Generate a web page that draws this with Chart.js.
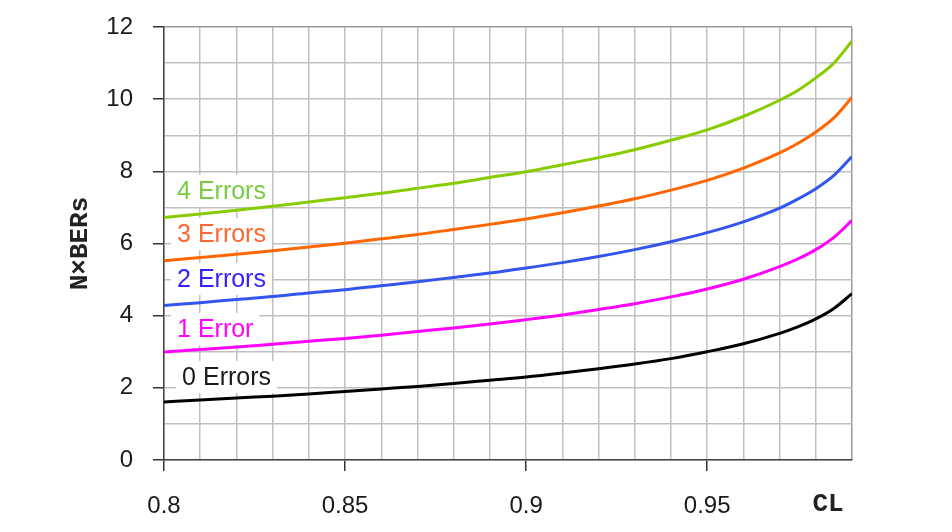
<!DOCTYPE html>
<html>
<head>
<meta charset="utf-8">
<script src="https://cdn.jsdelivr.net/npm/chart.js@4/dist/chart.umd.min.js"></script>
<style>
  html, body { margin: 0; padding: 0; background: #fff; }
  #wrap { width: 952px; height: 532px; }
</style>
</head>
<body>
<div id="wrap"><canvas id="berChart"></canvas></div>
<script>
// confidence levels (x axis) where the curves were read
var confLevels = [0.80, 0.81, 0.82, 0.83, 0.84, 0.85, 0.86, 0.87, 0.88, 0.89,
                  0.90, 0.91, 0.92, 0.93, 0.94, 0.95, 0.96, 0.97, 0.975, 0.98, 0.985, 0.99];

// N x BER values
var errors0 = [1.61, 1.66, 1.72, 1.77, 1.83, 1.90, 1.97, 2.04, 2.12, 2.21,
               2.30, 2.41, 2.53, 2.66, 2.81, 3.00, 3.22, 3.51, 3.69, 3.91, 4.20, 4.61];
var errors1 = [2.99, 3.06, 3.13, 3.21, 3.29, 3.37, 3.46, 3.56, 3.66, 3.77,
               3.89, 4.02, 4.17, 4.33, 4.52, 4.74, 5.01, 5.36, 5.57, 5.83, 6.17, 6.64];
var errors2 = [4.28, 4.36, 4.45, 4.53, 4.63, 4.72, 4.83, 4.94, 5.06, 5.18,
               5.32, 5.47, 5.64, 5.83, 6.05, 6.30, 6.60, 6.98, 7.23, 7.52, 7.89, 8.41];
var errors3 = [5.52, 5.61, 5.70, 5.80, 5.90, 6.01, 6.13, 6.25, 6.39, 6.53,
               6.68, 6.85, 7.04, 7.24, 7.48, 7.75, 8.09, 8.51, 8.77, 9.09, 9.48, 10.05];
var errors4 = [6.72, 6.82, 6.92, 7.03, 7.15, 7.27, 7.39, 7.53, 7.67, 7.83,
               7.99, 8.18, 8.38, 8.60, 8.86, 9.15, 9.52, 9.97, 10.24, 10.59, 11.00, 11.61];

var seriesNames = ['0 Errors', '1 Error', '2 Errors', '3 Errors', '4 Errors'];
var xGridValues = [0.80, 0.81, 0.82, 0.83, 0.84, 0.85, 0.86, 0.87, 0.88, 0.89,
                   0.90, 0.91, 0.92, 0.93, 0.94, 0.95, 0.96, 0.97, 0.98, 0.99];
var xTickLabels = [0.8, 0.85, 0.9, 0.95];
var yTickLabels = [0, 2, 4, 6, 8, 10, 12];

var lineColors = ['#000000', '#ff00ff', '#3355ee', '#ff6600', '#88cc00'];
var textColors = ['#1a1a1a', '#ff00ff', '#3322ff', '#ff6633', '#77cc44'];
// where each curve name sits, in data units
var labelSpots = [
    { x: 0.8050, y: 2.30 },
    { x: 0.8036, y: 3.63 },
    { x: 0.8036, y: 5.02 },
    { x: 0.8036, y: 6.26 },
    { x: 0.8036, y: 7.46 }
];

function toPoints(vals) {
    return confLevels.map(function(cl, i) { return { x: cl, y: vals[i] }; });
}

var allSeries = [errors0, errors1, errors2, errors3, errors4];
var datasets = allSeries.map(function(vals, i) {
    return {
        label: seriesNames[i],
        data: toPoints(vals),
        borderColor: lineColors[i],
        borderWidth: 3,
        pointRadius: 0,
        cubicInterpolationMode: 'monotone',
        fill: false
    };
});

function isXMajor(v) {
    return xTickLabels.some(function(t) { return Math.abs(t - v) < 1e-6; });
}

// curve names with white boxes behind them, plus the CL axis name
var curveLabels = {
    id: 'curveLabels',
    beforeDatasetsDraw: function(chart) {
        var ctx = chart.ctx;
        var xs = chart.scales.x, ys = chart.scales.y;
        ctx.save();
        ctx.font = '25px "Liberation Sans", Arial, sans-serif';
        ctx.textBaseline = 'middle';
        ctx.textAlign = 'left';
        seriesNames.forEach(function(name, i) {
            var px = xs.getPixelForValue(labelSpots[i].x);
            var py = ys.getPixelForValue(labelSpots[i].y);
            var w = ctx.measureText(name).width;
            ctx.fillStyle = '#ffffff';
            ctx.fillRect(px - 6, py - 16, w + 12, 32);
            ctx.fillStyle = textColors[i];
            ctx.fillText(name, px, py + 1);
        });
        ctx.restore();
    },
    afterDraw: function(chart) {
        var ctx = chart.ctx;
        var xs = chart.scales.x;
        ctx.save();
        ctx.font = 'bold 26px "Liberation Mono", "Courier New", monospace';
        ctx.fillStyle = '#222';
        ctx.textAlign = 'center';
        ctx.textBaseline = 'middle';
        ctx.fillText('CL', xs.getPixelForValue(0.9834), chart.chartArea.bottom + 44);
        ctx.restore();
    }
};

var ctx = document.getElementById('berChart').getContext('2d');
var chart = new Chart(ctx, {
    type: 'line',
    data: { datasets: datasets },
    plugins: [curveLabels],
    options: {
        responsive: true,
        maintainAspectRatio: false,
        animation: false,
        layout: { padding: { left: 65, right: 100, top: 27, bottom: 0 } },
        plugins: {
            legend: { display: false },
            tooltip: { enabled: false }
        },
        scales: {
            x: {
                type: 'linear',
                min: 0.8,
                max: 0.99,
                afterFit: function(scale) {
                    scale.height = 72;
                    scale.paddingLeft = 0;
                    scale.paddingRight = 0;
                },
                afterBuildTicks: function(scale) {
                    scale.ticks = xGridValues.map(function(v) { return { value: v }; });
                },
                ticks: {
                    autoSkip: false,
                    maxRotation: 0,
                    padding: 21,
                    color: '#1a1a1a',
                    font: { family: '"Liberation Sans", Arial, sans-serif', size: 24 },
                    callback: function(v) { return isXMajor(v) ? String(Math.round(v * 100) / 100) : ''; }
                },
                grid: {
                    lineWidth: 1.5,
                    tickLength: 11,
                    color: function(c) { return c.index === xGridValues.length - 1 ? '#999999' : '#c0c0c0'; },
                    tickColor: function(c) { return c.tick && isXMajor(c.tick.value) ? '#333' : 'rgba(0,0,0,0)'; }
                },
                border: { color: '#444', width: 1.5 }
            },
            y: {
                min: 0,
                max: 12,
                afterFit: function(scale) {
                    scale.width = 99;
                    scale.paddingTop = 0;
                    scale.paddingBottom = 0;
                },
                title: {
                    display: true,
                    text: 'N×BERs',
                    color: '#222',
                    padding: 0,
                    font: { family: '"Liberation Mono", "Courier New", monospace', size: 26, weight: 'bold' }
                },
                ticks: {
                    stepSize: 1,
                    padding: 20,
                    color: '#1a1a1a',
                    font: { family: '"Liberation Sans", Arial, sans-serif', size: 24 },
                    callback: function(v) { return yTickLabels.indexOf(v) >= 0 ? String(v) : ''; }
                },
                grid: {
                    lineWidth: 1.5,
                    tickLength: 11,
                    color: function(c) { return c.tick && c.tick.value === 12 ? '#999999' : '#c0c0c0'; },
                    tickColor: function(c) { return c.tick && yTickLabels.indexOf(c.tick.value) >= 0 ? '#333' : 'rgba(0,0,0,0)'; }
                },
                border: { color: '#444', width: 1.5 }
            }
        }
    }
});
</script>
</body>
</html>
